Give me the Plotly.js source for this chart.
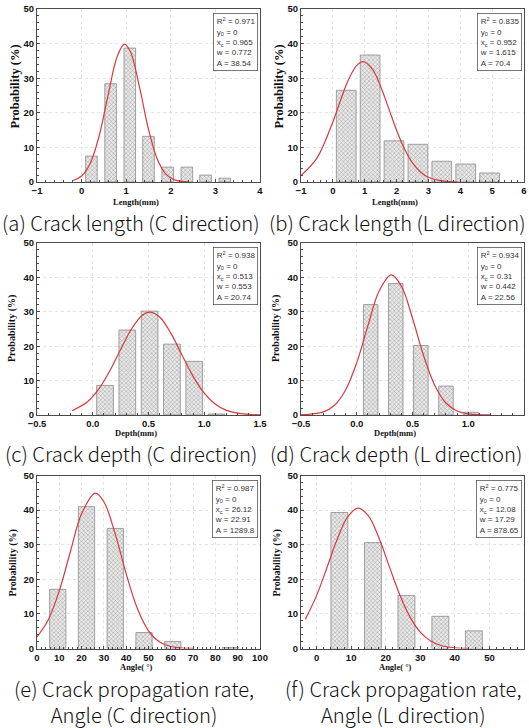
<!DOCTYPE html>
<html>
<head>
<meta charset="utf-8">
<script src="https://cdn.plot.ly/plotly-3.0.1.min.js"></script>
<style>html,body{margin:0;padding:0;background:#fff;}#chart{width:529px;height:728px;}</style>
</head>
<body>
<div id="chart"></div>
<script>
// ---- Data ----
// (a) Crack length, C direction
const aBinX = [0.22, 0.65, 1.08, 1.5, 1.93, 2.36, 2.78, 3.21];
const aProb = [7.5, 28.4, 38.7, 13.2, 4.3, 4.3, 2.0, 1.1];
const aFitX = [-0.19, 0.0, 0.2, 0.4, 0.6, 0.8, 0.965, 1.1, 1.3, 1.5, 1.7, 1.9, 2.1, 2.4];
const aFitY = [0.45, 1.75, 5.59, 13.65, 25.47, 36.35, 39.83, 37.47, 27.33, 15.24, 6.50, 2.12, 0.53, 0.04];
const aStats = ["R<sup>2</sup> = 0.971", "y<sub>0</sub> = 0", "x<sub>c</sub> = 0.965", "w = 0.772", "A = 38.54"];

// (b) Crack length, L direction
const bBinX = [0.42, 1.17, 1.92, 2.67, 3.42, 4.17, 4.92];
const bProb = [26.5, 36.7, 11.9, 10.9, 6.0, 5.2, 2.6];
const bFitX = [-1.0, -0.5, 0.0, 0.25, 0.5, 0.75, 0.952, 1.25, 1.5, 1.75, 2.0, 2.25, 2.5, 2.75, 3.0, 3.5, 3.9];
const bFitY = [1.87, 6.90, 17.36, 23.84, 29.74, 33.71, 34.78, 32.49, 27.63, 21.35, 14.98, 9.56, 5.54, 2.91, 1.39, 0.24, 0.04];
const bStats = ["R<sup>2</sup> = 0.835", "y<sub>0</sub> = 0", "x<sub>c</sub> = 0.952", "w = 1.615", "A = 70.4"];

// (c) Crack depth, C direction
const cBinX = [0.11, 0.31, 0.51, 0.71, 0.91, 1.11];
const cProb = [8.6, 24.7, 30.2, 20.6, 15.6, 0.3];
const cFitX = [-0.185, -0.05, 0.05, 0.15, 0.25, 0.35, 0.45, 0.513, 0.6, 0.7, 0.8, 0.9, 1.0, 1.1, 1.2, 1.35, 1.5];
const cFitY = [1.24, 3.76, 7.36, 12.64, 19.03, 25.15, 29.15, 29.92, 28.47, 23.80, 17.46, 11.23, 6.34, 3.14, 1.36, 0.31, 0.05];
const cStats = ["R<sup>2</sup> = 0.938", "y<sub>0</sub> = 0", "x<sub>c</sub> = 0.513", "w = 0.553", "A = 20.74"];

// (d) Crack depth, L direction
const dBinX = [0.125, 0.35, 0.575, 0.80, 1.025];
const dProb = [32.1, 38.2, 20.2, 8.4, 0.8];
const dFitX = [-0.5, -0.3, -0.2, -0.1, 0.0, 0.1, 0.2, 0.31, 0.4, 0.5, 0.6, 0.7, 0.8, 0.9, 1.0, 1.2];
const dFitY = [0.05, 0.90, 2.84, 7.28, 15.22, 25.93, 35.98, 40.72, 37.48, 28.14, 17.22, 8.58, 3.48, 1.15, 0.31, 0.01];
const dStats = ["R<sup>2</sup> = 0.934", "y<sub>0</sub> = 0", "x<sub>c</sub> = 0.31", "w = 0.442", "A = 22.56"];

// (e) Crack propagation angle, C direction
const eBinX = [9.3, 22.2, 35.1, 48.0, 60.9, 86.7];
const eProb = [17.1, 41.0, 34.7, 4.6, 2.0, 0.3];
const eFitX = [0, 5, 10, 15, 20, 26.12, 30, 35, 40, 45, 50, 55, 60, 65, 70];
const eFitY = [3.34, 8.21, 16.69, 28.04, 38.94, 44.92, 42.41, 33.26, 21.56, 11.55, 5.11, 1.87, 0.57, 0.14, 0.03];
const eStats = ["R<sup>2</sup> = 0.987", "y<sub>0</sub> = 0", "x<sub>c</sub> = 26.12", "w = 22.91", "A = 1289.8"];

// (f) Crack propagation angle, L direction
const fBinX = [6.6, 16.3, 26.0, 35.8, 45.5];
const fProb = [39.3, 30.6, 15.3, 9.3, 5.1];
const fFitX = [-3.25, 0, 3, 6, 9, 12.08, 15, 18, 21, 24, 27, 30, 33, 36, 40, 44];
const fFitY = [8.42, 15.28, 23.36, 31.67, 38.06, 40.55, 38.30, 32.08, 23.81, 15.67, 9.14, 4.73, 2.17, 0.88, 0.22, 0.04];
const fStats = ["R<sup>2</sup> = 0.775", "y<sub>0</sub> = 0", "x<sub>c</sub> = 12.08", "w = 17.29", "A = 878.65"];

const xTitles = ["Length(mm)", "Length(mm)", "Depth(mm)", "Depth(mm)", "Angle( °)", "Angle( °)"];
const yTitle = "Probability (%)";
const captions = [
  ["(a) Crack length (C direction)"], ["(b) Crack length (L direction)"],
  ["(c) Crack depth (C direction)"], ["(d) Crack depth (L direction)"],
  ["(e) Crack propagation rate,", "Angle (C direction)"], ["(f) Crack propagation rate,", "Angle (L direction)"]
];

// ---- Layout geometry (pixels) ----
const W = 529, H = 728;
const px = v => v / W, py = v => 1 - v / H;
const cols = [[37, 260], [301, 524]];
const rows = [[9, 182], [243, 415], [475.5, 648.5]];

const panels = [
  {bx: aBinX, by: aProb, fx: aFitX, fy: aFitY, st: aStats, bw: 0.26, xr: [-1, 4], dt: 1, fmt: "", c: 0, r: 0},
  {bx: bBinX, by: bProb, fx: bFitX, fy: bFitY, st: bStats, bw: 0.62, xr: [-1, 6], dt: 1, fmt: "", c: 1, r: 0},
  {bx: cBinX, by: cProb, fx: cFitX, fy: cFitY, st: cStats, bw: 0.15, xr: [-0.5, 1.5], dt: 0.5, fmt: ".1f", c: 0, r: 1},
  {bx: dBinX, by: dProb, fx: dFitX, fy: dFitY, st: dStats, bw: 0.13, xr: [-0.5, 1.5], dt: 0.5, fmt: ".1f", c: 1, r: 1},
  {bx: eBinX, by: eProb, fx: eFitX, fy: eFitY, st: eStats, bw: 7.3, xr: [0, 100], dt: 10, fmt: "", c: 0, r: 2},
  {bx: fBinX, by: fProb, fx: fFitX, fy: fFitY, st: fStats, bw: 4.9, xr: [-4.5, 60], dt: 10, fmt: "", c: 1, r: 2}
];

const xTitleX = [136, 395];
const xTitleY = [202, 433, 667];
const yTitleX = [14, 12.5, 12.5];
const yTitleY = [86.5, 328.5, 563];
const yTitleSize = [12.5, 10, 10];
const capX = [[131, 397], [131, 396], [134, 403]];
const capY = [222, 453, 701];

const traces = [];
const layout = {
  width: W, height: H, margin: {l: 0, r: 0, t: 0, b: 0},
  paper_bgcolor: "#fff", plot_bgcolor: "#fff", showlegend: false,
  bargap: 0, annotations: []
};

const axisCommon = {
  showline: true, mirror: true, linecolor: "#4a4a4a", linewidth: 1,
  ticks: "inside", ticklen: 3, tickcolor: "#4a4a4a", tickwidth: 1,
  showgrid: true, gridcolor: "#e4e4e4", griddash: "dot", gridwidth: 1,
  zeroline: false, fixedrange: true,
  tickfont: {family: "Liberation Sans, Arial, sans-serif", size: 9.5, color: "#111", weight: "bold"},
  minor: {ticks: "inside", ticklen: 2, tickcolor: "#4a4a4a", showgrid: false}
};

panels.forEach((p, i) => {
  const n = i + 1;
  const xa = n === 1 ? "x" : "x" + n, ya = n === 1 ? "y" : "y" + n;
  const xk = n === 1 ? "xaxis" : "xaxis" + n, yk = n === 1 ? "yaxis" : "yaxis" + n;
  const [l, r] = cols[p.c], [t, b] = rows[p.r];
  traces.push({
    type: "bar", x: p.bx, y: p.by, width: p.bw, xaxis: xa, yaxis: ya,
    marker: {color: "#e0e0e0",
      pattern: {shape: "x", size: 3, solidity: 0.28, fgcolor: "#969696", bgcolor: "#e9e9e9"},
      line: {color: "#8c8c8c", width: 0.8}},
    hoverinfo: "skip"
  });
  traces.push({
    type: "scatter", mode: "lines", x: p.fx, y: p.fy, xaxis: xa, yaxis: ya,
    line: {color: "#d9393c", width: 1.2, shape: "spline", smoothing: 1},
    hoverinfo: "skip"
  });
  layout[xk] = Object.assign({}, axisCommon, {
    domain: [px(l), px(r)], anchor: ya, range: p.xr, tick0: 0, dtick: p.dt,
    tickformat: p.fmt
  });
  layout[yk] = Object.assign({}, axisCommon, {
    domain: [py(b), py(t)], anchor: xa, range: [0, 50], tick0: 0, dtick: 10
  });
  // fit statistics box
  layout.annotations.push({
    xref: "paper", yref: "paper", x: px(r - 2), y: py(t + 4), xanchor: "right", yanchor: "top",
    text: p.st.join("<br>"), align: "left", showarrow: false,
    font: {family: "Liberation Sans, Arial, sans-serif", size: 8, color: "#333"},
    bordercolor: "#555", borderwidth: 0.8, borderpad: 2, bgcolor: "#fff"
  });
  // x axis title
  layout.annotations.push({
    xref: "paper", yref: "paper", x: px(xTitleX[p.c]), y: py(xTitleY[p.r]),
    xanchor: "center", yanchor: "middle", text: xTitles[i], showarrow: false,
    font: {family: "Liberation Serif, Times New Roman, serif", size: 8.5, color: "#111", weight: "bold"}
  });
  // y axis title
  layout.annotations.push({
    xref: "paper", yref: "paper", x: px(yTitleX[p.r] + p.c * 264), y: py(yTitleY[p.r]),
    xanchor: "center", yanchor: "middle", textangle: -90, text: yTitle, showarrow: false,
    font: {family: "Liberation Serif, Times New Roman, serif", size: yTitleSize[p.r], color: "#111", weight: "bold"}
  });
  // caption
  layout.annotations.push({
    xref: "paper", yref: "paper", x: px(capX[p.r][p.c]), y: py(capY[p.r]),
    xanchor: "center", yanchor: "middle", align: "center", text: captions[i].join("<br>"), showarrow: false,
    font: {family: "Noto Sans CJK KR, Liberation Sans, sans-serif", size: 20.2, color: "#111", weight: 300}
  });
});

Plotly.newPlot("chart", traces, layout, {displayModeBar: false, staticPlot: true});
</script>
</body>
</html>
